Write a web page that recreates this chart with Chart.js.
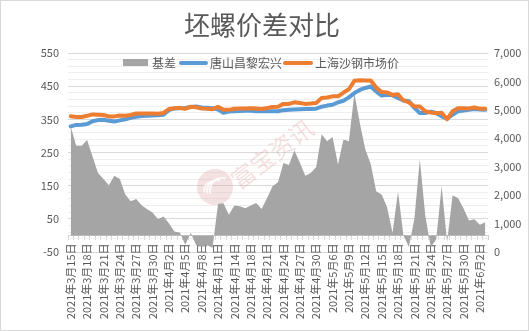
<!DOCTYPE html>
<html><head><meta charset="utf-8">
<script src="https://cdn.jsdelivr.net/npm/chart.js@4.4.0/dist/chart.umd.min.js"></script>
<style>html,body{margin:0;padding:0;background:#fff;}canvas{display:block;}</style>
</head><body>
<canvas id="c" width="529" height="331"></canvas>
<script>
const titleText = '坯螺价差对比';
const categories = [
'2021年3月15日','2021年3月16日','2021年3月17日','2021年3月18日','2021年3月19日','2021年3月20日','2021年3月21日','2021年3月22日','2021年3月23日','2021年3月24日',
'2021年3月25日','2021年3月26日','2021年3月27日','2021年3月28日','2021年3月29日','2021年3月30日','2021年3月31日','2021年4月1日','2021年4月2日','2021年4月3日',
'2021年4月4日','2021年4月5日','2021年4月6日','2021年4月7日','2021年4月8日','2021年4月9日','2021年4月10日','2021年4月11日','2021年4月12日','2021年4月13日',
'2021年4月14日','2021年4月15日','2021年4月16日','2021年4月18日','2021年4月19日','2021年4月20日','2021年4月21日','2021年4月22日','2021年4月23日','2021年4月24日',
'2021年4月25日','2021年4月26日','2021年4月27日','2021年4月28日','2021年4月29日','2021年4月30日','2021年5月4日','2021年5月5日','2021年5月6日','2021年5月7日',
'2021年5月8日','2021年5月9日','2021年5月10日','2021年5月11日','2021年5月12日','2021年5月13日','2021年5月14日','2021年5月15日','2021年5月16日','2021年5月17日',
'2021年5月18日','2021年5月19日','2021年5月20日','2021年5月21日','2021年5月22日','2021年5月23日','2021年5月24日','2021年5月25日','2021年5月26日','2021年5月27日',
'2021年5月28日','2021年5月29日','2021年5月30日','2021年5月31日','2021年6月1日','2021年6月2日','2021年6月3日'];

const basisLabel = '基差';
const basis = [329,270,270,288,238,188,170,151,180,170,
 123,103,110,91,79,69,49,57,37,12,
 9,-28,8,-30,-33,-30,-37,95,97,62,
 90,88,82,90,98,80,113,148,160,218,
 212,256,220,180,188,206,305,284,297,214,
 289,284,429,339,260,215,133,123,85,8,
 132,0,-35,50,230,60,-35,-12,148,-20,
 120,113,82,45,49,32,40];

const tangshanLabel = '唐山昌黎宏兴';
const tangshan = [4420,4470,4480,4500,4600,4640,4650,4620,4590,4630,
 4670,4720,4760,4780,4795,4800,4810,4830,4990,5050,
 5060,5065,5100,5120,5080,5070,5060,5010,4900,4940,
 4950,4960,4970,4965,4950,4950,4950,4950,4950,4990,
 5000,5010,5020,5030,5030,5040,5110,5150,5180,5260,
 5320,5440,5590,5700,5770,5820,5650,5500,5530,5510,
 5420,5330,5300,5070,4890,4890,4940,4890,4770,4690,
 4830,4950,4980,5000,5030,5010,5000];

const shagangLabel = '上海沙钢市场价';
const shagang = [4772,4750,4750,4790,4840,4830,4820,4770,4770,4800,
 4795,4820,4870,4870,4875,4870,4860,4890,5030,5060,
 5070,5035,5110,5090,5050,5040,5025,5105,5000,5000,
 5040,5050,5050,5055,5050,5030,5065,5100,5110,5210,
 5210,5265,5240,5210,5220,5245,5415,5435,5475,5475,
 5610,5725,6020,6040,6030,6035,5785,5625,5615,5520,
 5550,5330,5265,5120,5120,4950,4905,4880,4900,4670,
 4950,5060,5060,5045,5080,5040,5040];

const leftMin = -50, leftMax = 550, leftMinorStep = 20, leftMajorStep = 100;
const rightMin = 0, rightMax = 7000, rightStep = 1000;
const labelEvery = 3;

const FONT = "'Noto Sans CJK SC', 'Noto Sans', sans-serif";
const TEXT = '#595959';
Chart.defaults.font.family = FONT;
Chart.defaults.color = TEXT;

const deco = {
  id: 'deco',
  beforeDatasetsDraw(chart) {
    const ctx = chart.ctx;
    ctx.save();
    ctx.fillStyle = 'rgba(214,150,150,0.28)';
    ctx.beginPath(); ctx.arc(215, 187, 18, 0, Math.PI * 2); ctx.fill();
    ctx.strokeStyle = 'rgba(255,255,255,0.8)'; ctx.lineWidth = 2;
    for (let k = 0; k < 3; k++) {
      ctx.beginPath(); ctx.arc(222 - k * 5, 190, 12 - k * 2, Math.PI * 0.9, Math.PI * 1.6); ctx.stroke();
    }
    ctx.translate(272, 154);
    ctx.rotate(-37 * Math.PI / 180);
    ctx.font = '24px ' + FONT;
    ctx.fillStyle = 'rgba(214,130,130,0.25)';
    ctx.textAlign = 'center'; ctx.textBaseline = 'middle';
    ctx.fillText('富宝资讯', 0, 0);
    ctx.restore();
  },
  afterDraw(chart) {
    const ctx = chart.ctx;
    const ds = chart.data.datasets;
    ctx.save();
    ctx.strokeStyle = '#d9d9d9'; ctx.lineWidth = 1;
    ctx.strokeRect(0.5, 0.5, chart.width - 1, chart.height - 1);
    ctx.fillStyle = TEXT;
    ctx.textBaseline = 'middle';
    ctx.textAlign = 'center';
    ctx.font = '26px ' + FONT;
    ctx.fillText(titleText, 262, 25);
    ctx.textAlign = 'left';
    ctx.font = '12px ' + FONT;
    const ly = 63;
    ctx.fillStyle = ds[0].backgroundColor;
    ctx.fillRect(123, 59, 25, 7);
    ctx.fillStyle = TEXT;
    ctx.fillText(ds[0].label, 152, ly);
    ctx.lineCap = 'round'; ctx.lineWidth = 4;
    ctx.strokeStyle = ds[1].borderColor;
    ctx.beginPath(); ctx.moveTo(181, ly); ctx.lineTo(206, ly); ctx.stroke();
    ctx.fillText(ds[1].label, 210, ly);
    ctx.strokeStyle = ds[2].borderColor;
    ctx.beginPath(); ctx.moveTo(285, ly); ctx.lineTo(311, ly); ctx.stroke();
    ctx.fillText(ds[2].label, 315, ly);
    ctx.restore();
  }
};

new Chart(document.getElementById('c'), {
  type: 'line',
  data: {
    labels: categories,
    datasets: [
      { label: basisLabel, data: basis, yAxisID: 'yL', fill: 'origin',
        backgroundColor: '#a5a5a5', borderColor: '#a5a5a5', borderWidth: 0,
        pointRadius: 0, tension: 0, order: 3 },
      { label: tangshanLabel, data: tangshan, yAxisID: 'yR', fill: false,
        borderColor: '#5b9bd5', backgroundColor: '#5b9bd5', borderWidth: 4,
        borderJoinStyle: 'round', borderCapStyle: 'round', pointRadius: 0, tension: 0, order: 2 },
      { label: shagangLabel, data: shagang, yAxisID: 'yR', fill: false,
        borderColor: '#ed7d31', backgroundColor: '#ed7d31', borderWidth: 4,
        borderJoinStyle: 'round', borderCapStyle: 'round', pointRadius: 0, tension: 0, order: 1 }
    ]
  },
  options: {
    responsive: false,
    animation: false,
    layout: { padding: { top: 53, bottom: 79, left: 0, right: 0 } },
    plugins: { legend: { display: false }, title: { display: false }, tooltip: { enabled: false } },
    scales: {
      x: {
        type: 'category',
        position: { yL: 0 },
        offset: true,
        grid: { display: true, drawOnChartArea: false, drawTicks: true, tickLength: 4, color: '#d0d0d0', offset: true },
        border: { display: true, color: '#d0d0d0', width: 1 },
        ticks: {
          autoSkip: false, minRotation: 90, maxRotation: 90, padding: 4,
          font: { size: 11 }, color: TEXT,
          callback: function(v, i) { return i % labelEvery === 0 ? this.getLabelForValue(v) : ''; }
        }
      },
      yL: {
        type: 'linear', position: 'left', min: leftMin, max: leftMax,
        afterFit: s => { s.width = 68; },
        border: { display: false },
        grid: {
          drawTicks: false,
          color: c => ((c.tick.value - leftMin) % leftMajorStep === 0 ? '#d9d9d9' : '#efefef')
        },
        ticks: {
          autoSkip: false, stepSize: leftMinorStep, padding: 9, font: { size: 11 }, color: TEXT,
          callback: v => ((v - leftMin) % leftMajorStep === 0 ? String(v) : '')
        }
      },
      yR: {
        type: 'linear', position: 'right', min: rightMin, max: rightMax,
        afterFit: s => { s.width = 41; },
        border: { display: false },
        grid: { display: false, drawTicks: false },
        ticks: { autoSkip: false, stepSize: rightStep, padding: 6, font: { size: 11 }, color: TEXT }
      }
    }
  },
  plugins: [deco]
});
</script>
</body></html>
